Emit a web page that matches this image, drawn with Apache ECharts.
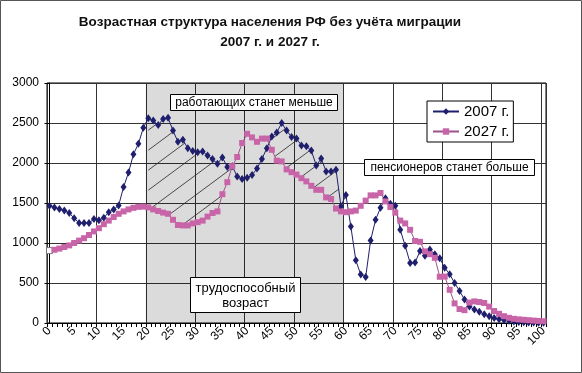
<!DOCTYPE html>
<html><head><meta charset="utf-8">
<script src="https://cdn.jsdelivr.net/npm/echarts@6/dist/echarts.min.js"></script>
<style>html,body{margin:0;padding:0;background:#fff}#c{width:582px;height:373px}</style>
</head><body><div id="c"></div>
<script>
const ages = ['0','1','2','3','4','5','6','7','8','9','10','11','12','13','14','15','16','17','18','19',
'20','21','22','23','24','25','26','27','28','29','30','31','32','33','34','35','36','37','38','39',
'40','41','42','43','44','45','46','47','48','49','50','51','52','53','54','55','56','57','58','59',
'60','61','62','63','64','65','66','67','68','69','70','71','72','73','74','75','76','77','78','79',
'80','81','82','83','84','85','86','87','88','89','90','91','92','93','94','95','96','97','98','99','100'];
const tickLabels = ['0','5','10','15','20','25','30','35','40','45','50','55','60','65','70','75','80','85','90','95','100'];
const yTicks = [0, 500, 1000, 1500, 2000, 2500, 3000];
const workingAge = [20, 60];
const pop2007 = [1465,1445,1425,1405,1375,1310,1250,1250,1250,1300,
1285,1315,1385,1420,1470,1700,1880,2110,2240,2440,
2560,2530,2475,2550,2565,2405,2265,2290,2185,2150,
2135,2145,2095,2050,1990,2070,1950,1960,1830,1800,
1815,1850,1930,2050,2185,2330,2380,2500,2405,2325,
2305,2220,2210,2155,1970,2055,1895,1895,1915,1460,
1600,1205,785,605,575,1030,1290,1440,1560,1490,
1465,1165,965,750,755,900,840,920,860,810,
690,610,500,400,295,205,170,140,110,85,
62,48,36,27,20,14,10,7,5,3,2];
const pop2027 = [905,915,930,950,970,1000,1030,1060,1100,1145,
1185,1235,1280,1325,1365,1395,1420,1440,1452,1455,
1445,1420,1400,1380,1365,1290,1225,1220,1220,1245,
1260,1280,1330,1375,1395,1610,1760,1960,2075,2250,
2365,2320,2265,2305,2305,2165,2030,2020,1920,1885,
1855,1810,1770,1715,1665,1665,1570,1550,1430,1395,
1385,1395,1405,1465,1530,1595,1595,1625,1520,1450,
1380,1280,1245,1165,1025,1015,895,860,815,578,
580,415,245,175,160,255,270,262,250,205,
150,115,85,65,52,45,40,35,30,26,22];
const seriesNames = ['2007 г.', '2027 г.'];
const titleText = 'Возрастная структура населения РФ без учёта миграции\n2007 г. и 2027 г.';
const noteLess = 'работающих станет меньше';
const noteMore = 'пенсионеров станет больше';
const noteWork = 'трудоспособный\nвозраст';

const FONT = '"Liberation Sans", Arial, sans-serif';
const C07 = '#1f1f6e', C27 = '#c864a8';

function hatchPattern() {
  const W = 27, H = 20;
  const c = document.createElement('canvas');
  c.width = W; c.height = H;
  const g = c.getContext('2d');
  g.strokeStyle = '#222'; g.lineWidth = 0.8;
  for (const dx of [-W, 0, W]) {
    g.beginPath(); g.moveTo(dx - W, 2 * H); g.lineTo(dx + 2 * W, -H); g.stroke();
  }
  return c;
}

const inWork = i => i >= workingAge[0] && i < workingAge[1];
const hatchBase = pop2027.map((v, i) => inWork(i) ? v : '-');
const hatchDiff = pop2007.map((v, i) => inWork(i) ? Math.max(0, v - pop2027[i]) : '-');
const data2027 = pop2027.map((v, i) => i === 0 ? {value: v, itemStyle: {color: '#fff', borderColor: '#777', borderWidth: 1}} : v);

const chart = echarts.init(document.getElementById('c'), null, {renderer: 'canvas'});
chart.setOption({
  animation: false,
  textStyle: {fontFamily: FONT},
  title: {
    text: titleText, left: 270, top: 12, textAlign: 'center', padding: 0,
    textStyle: {fontFamily: FONT, fontSize: 13.5, fontWeight: 'bold', color: '#111', lineHeight: 20}
  },
  legend: {
    data: seriesNames, orient: 'vertical', left: 427, top: 101,
    backgroundColor: '#fff', borderColor: '#000', borderWidth: 1,
    padding: [3, 4, 3, 5], itemGap: 5, itemWidth: 26, itemHeight: 8,
    textStyle: {fontFamily: FONT, fontSize: 15, color: '#000'}
  },
  grid: {left: 47, right: 36, top: 83, bottom: 50, show: true, borderColor: '#000', borderWidth: 1, backgroundColor: 'transparent'},
  xAxis: [{
    type: 'category', data: ages, boundaryGap: true,
    axisLine: {lineStyle: {color: '#000', width: 1}},
    axisTick: {show: true, interval: 0, length: 4, lineStyle: {color: '#000'}},
    axisLabel: {interval: (i, v) => tickLabels.includes(v), rotate: 45, margin: 6, fontSize: 12, color: '#000', fontFamily: FONT},
    splitLine: {show: true, interval: 9, lineStyle: {color: '#333', width: 1}}
  }, {
    type: 'value', min: -0.5, max: 100.5, show: false
  }],
  yAxis: {
    type: 'value', min: yTicks[0], max: yTicks[yTicks.length - 1], interval: 500,
    axisLine: {show: true, lineStyle: {color: '#000'}},
    axisTick: {show: true, length: 5, lineStyle: {color: '#000'}},
    axisLabel: {fontSize: 12, color: '#000', margin: 8, fontFamily: FONT, formatter: v => String(v)},
    splitLine: {show: true, lineStyle: {color: '#333', width: 1}}
  },
  series: [
    {
      type: 'line', xAxisIndex: 1, data: [[0, 0]], symbol: 'none', silent: true,
      lineStyle: {opacity: 0},
      markArea: {silent: true, itemStyle: {color: 'rgba(0,0,0,0.14)'},
        data: [[{xAxis: workingAge[0] - 0.5}, {xAxis: workingAge[1] - 0.5}]]}
    },
    {type: 'line', name: 'base', data: hatchBase, stack: 'h', symbol: 'none', silent: true, lineStyle: {opacity: 0, width: 0}},
    {type: 'line', name: 'hatch', data: hatchDiff, stack: 'h', symbol: 'none', silent: true, lineStyle: {opacity: 0, width: 0},
      areaStyle: {color: {image: hatchPattern(), repeat: 'repeat'}, opacity: 1}},
    {
      type: 'line', name: seriesNames[0], data: pop2007, symbol: 'diamond', symbolSize: [6, 8],
      showSymbol: true, showAllSymbol: true,
      itemStyle: {color: C07}, lineStyle: {color: C07, width: 1}
    },
    {
      type: 'line', name: seriesNames[1], data: data2027, symbol: 'rect', symbolSize: 6,
      showSymbol: true, showAllSymbol: true,
      itemStyle: {color: C27}, lineStyle: {color: '#a0508a', width: 1}
    }
  ],
  graphic: [
    {type: 'rect', shape: {x: 0.5, y: 0.5, width: 581, height: 372}, style: {fill: 'none', stroke: '#555', lineWidth: 1}, z: 100},
    {type: 'rect', shape: {x: 170.5, y: 94.5, width: 167, height: 16}, style: {fill: '#fff', stroke: '#000', lineWidth: 1}, z: 50},
    {type: 'text', x: 254, y: 102.5, style: {text: noteLess, font: '12px ' + FONT, fill: '#000', align: 'center', verticalAlign: 'middle'}, z: 51},
    {type: 'rect', shape: {x: 364.5, y: 159.5, width: 170, height: 16}, style: {fill: '#fff', stroke: '#000', lineWidth: 1}, z: 50},
    {type: 'text', x: 449.5, y: 167.5, style: {text: noteMore, font: '12px ' + FONT, fill: '#000', align: 'center', verticalAlign: 'middle'}, z: 51},
    {type: 'rect', shape: {x: 190.5, y: 277.5, width: 110, height: 35}, style: {fill: '#fff', stroke: '#000', lineWidth: 1}, z: 50},
    {type: 'text', x: 245.5, y: 295.5, style: {text: noteWork, font: '13px ' + FONT, fill: '#000', align: 'center', verticalAlign: 'middle', lineHeight: 15}, z: 51}
  ]
});
</script></body></html>
